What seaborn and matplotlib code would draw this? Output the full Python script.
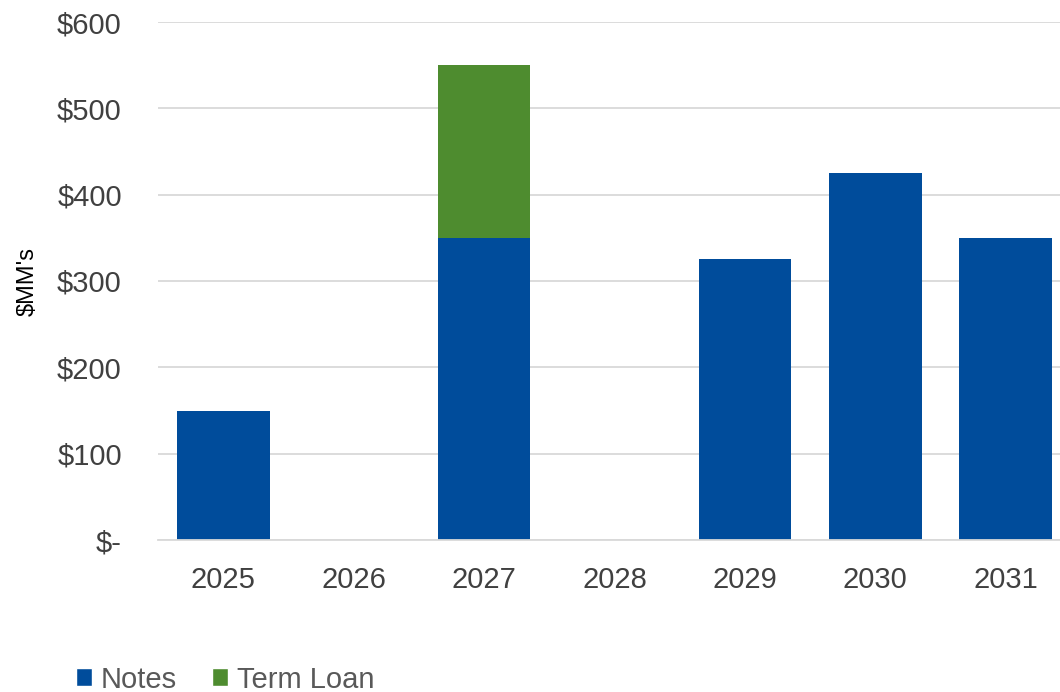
import matplotlib
matplotlib.use("Agg")
import matplotlib.pyplot as plt
import seaborn as sns
import pandas as pd
from matplotlib.patches import Patch
from matplotlib.ticker import FuncFormatter

years = ["2025", "2026", "2027", "2028", "2029", "2030", "2031"]
notes = [150, 0, 350, 0, 325, 425, 350]
term_loan = [0, 0, 200, 0, 0, 0, 0]
y_ticks = [0, 100, 200, 300, 400, 500, 600]

blue = "#004C9B"
green = "#4E8C2F"
grid_c = "#D9D9D9"

sns.set_theme(style="white")
plt.rcParams["font.family"] = ["Liberation Sans", "DejaVu Sans"]

df = pd.DataFrame({"year": years, "notes": notes,
                   "total": [n + t for n, t in zip(notes, term_loan)]})

fig = plt.figure(figsize=(10.6, 6.92), dpi=100)
ax = fig.add_axes([158 / 1060, 1 - 540 / 692, 913 / 1060, 518 / 692])

sns.barplot(data=df, x="year", y="total", color=green, width=0.71,
            saturation=1, ax=ax, linewidth=0)
sns.barplot(data=df, x="year", y="notes", color=blue, width=0.71,
            saturation=1, ax=ax, linewidth=0)

ax.set_xlim(-0.5, 6.5)
ax.set_ylim(0, 600)
ax.set_yticks(y_ticks)
ax.yaxis.set_major_formatter(FuncFormatter(lambda v, p: "$-" if v == 0 else f"${int(v)}"))
ax.grid(axis="y", color=grid_c, linewidth=1.3)
ax.set_axisbelow(True)
for s in ["top", "right", "left"]:
    ax.spines[s].set_visible(False)
ax.spines["bottom"].set_color(grid_c)
ax.spines["bottom"].set_linewidth(1.3)
ax.tick_params(axis="y", length=0, pad=26, labelsize=21, labelcolor="#404040")
ax.tick_params(axis="x", length=0, pad=19, labelsize=21, labelcolor="#404040")
ax.set_xlabel("")
ax.set_ylabel("$MM's", fontsize=17, color="#000000")
ax.yaxis.set_label_coords(-0.131, 0.5)

handles = [Patch(facecolor=blue, label="Notes"), Patch(facecolor=green, label="Term Loan")]
fig.legend(handles=handles, loc="center left", bbox_to_anchor=(0.072, 0.018),
           ncol=2, frameon=False, fontsize=21, labelcolor="#595959",
           handlelength=0.55, handleheight=0.55, handletextpad=0.3,
           columnspacing=1.2, borderaxespad=0, borderpad=0)

fig.savefig("out.png", dpi=100)
